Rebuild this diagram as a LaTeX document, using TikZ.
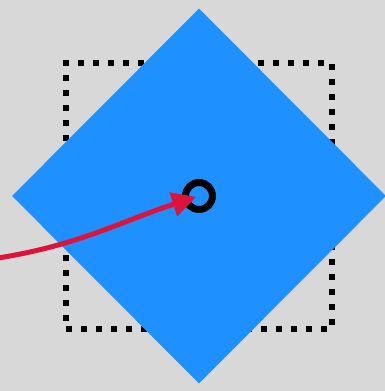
\documentclass[tikz,border=0pt]{standalone}
\usepackage{xcolor}
\usetikzlibrary{arrows.meta, shapes.geometric}

\definecolor{bgGray}{HTML}{D8D8D8}
\definecolor{tileBlue}{HTML}{1E90FF}
\definecolor{pointerRed}{HTML}{DC143C}

\begin{document}
\begin{tikzpicture}[
    x=1pt, y=-1pt,
    frame/.style={rectangle, draw=black, line width=6pt, dash pattern=on 6pt off 9pt,
                  minimum width=266pt, minimum height=266pt, inner sep=0pt},
    tile/.style={diamond, fill=tileBlue, minimum width=374pt, minimum height=375pt,
                 inner sep=0pt, aspect=1},
    ring/.style={circle, draw=black, line width=7pt, minimum size=27pt, inner sep=0pt},
    pointer/.style={-{Triangle[length=24pt, width=24pt]}, line width=5pt, draw=pointerRed},
]

% background and bounds
\fill[bgGray] (0,0) rectangle (385,391);
\useasboundingbox (0,0) rectangle (385,391);

% dotted frame behind the tile
\node[frame] (box) at (199,196) {};
\node[tile] (rhombus) at (199,196) {};

% centre ring
\node[ring] (hub) at (199,196) {};

% pointer coming in from the left
\coordinate (start) at (-2,258);
\draw[pointer, shorten >=3pt] (start) to[out=9, in=-162] (hub.center);

\end{tikzpicture}
\end{document}
